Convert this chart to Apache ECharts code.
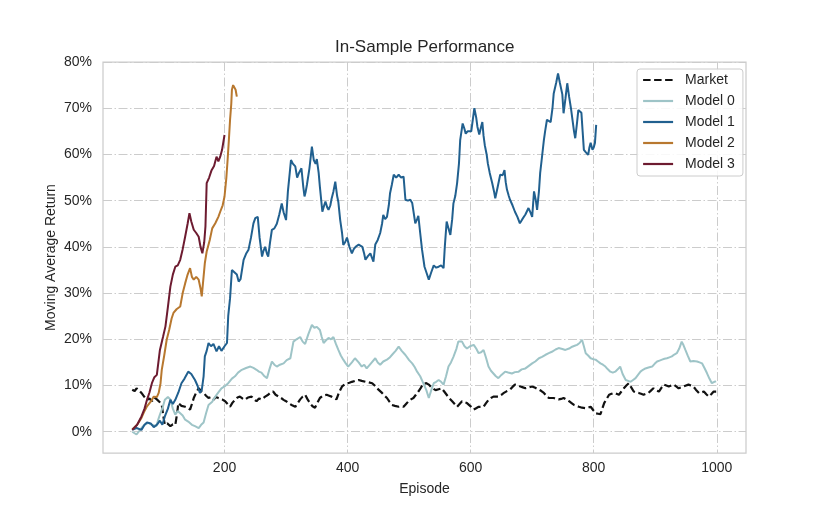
<!DOCTYPE html>
<html>
<head>
<meta charset="utf-8">
<script src="https://cdn.jsdelivr.net/npm/echarts@6/dist/echarts.min.js"></script>
<style>
  html, body { margin: 0; padding: 0; background: #fff; }
  #perfChart { width: 830px; height: 519px; }
</style>
</head>
<body>
<div id="perfChart"></div>
<script>
// [episode, moving average return %]
const market = [
  [50, 9.1], [54, 8.8], [57, 9.4], [61, 9], [65, 8.4], [70, 7.5], [74, 6.9], [78, 7.2], [82, 6.6], [86, 7.4],
  [90, 7], [94, 6.5], [98, 5.8], [101, 3], [103, 1.5], [107, 1.8], [112, 1.2], [116, 1.6], [120, 1.5], [123, 4],
  [125, 6.2], [130, 5.6], [136, 5.4], [140, 5.2], [144, 4.8], [147, 6], [150, 7.3], [154, 8.5], [158, 9.4], [162, 8.8],
  [166, 8.4], [170, 7.8], [174, 7.3], [178, 7.5], [182, 6.9], [186, 7.5], [190, 7.3], [196, 7], [201, 6.6], [205, 6],
  [209, 5.4], [213, 6.3], [217, 6.9], [221, 7.4], [225, 7.6], [229, 7.2], [233, 6.9], [238, 7.4], [244, 7.6], [248, 7],
  [252, 6.6], [256, 7.2], [260, 7], [266, 7.6], [271, 8], [275, 8.5], [279, 8.7], [283, 8], [288, 7.6], [292, 7.3],
  [296, 6.9], [300, 6.6], [304, 6.2], [309, 5.8], [315, 5.4], [319, 6.2], [323, 7], [327, 7.6], [331, 8], [335, 7],
  [339, 6.2], [343, 5.5], [347, 5.2], [351, 6.3], [355, 7.3], [360, 7.8], [366, 8], [370, 7.8], [374, 7.6], [378, 7.3],
  [382, 7], [386, 8.5], [391, 9.8], [395, 10.2], [399, 10.5], [403, 10.6], [407, 10.8], [412, 11], [418, 11.2], [423, 11],
  [429, 10.8], [434, 10.7], [440, 10.5], [444, 10], [448, 9.4], [452, 8.9], [456, 8.4], [460, 7.8], [464, 7.3], [468, 6.5],
  [472, 5.8], [477, 5.6], [483, 5.4], [487, 5.5], [491, 5.4], [495, 6], [499, 6.6], [503, 7], [507, 7.3], [511, 8],
  [515, 8.7], [519, 9.5], [523, 10.4], [528, 10.5], [532, 10.2], [537, 9.5], [543, 9], [548, 9.2], [553, 9.4], [557, 8.7],
  [561, 8], [565, 7.3], [570, 6.6], [574, 6], [578, 5.4], [582, 6], [586, 6.6], [590, 6.4], [594, 6.2], [600, 5.5],
  [605, 4.8], [609, 5.1], [613, 5.4], [617, 5.4], [621, 5.4], [625, 6.2], [629, 6.9], [633, 7.3], [637, 7.6], [641, 7.6],
  [645, 7.6], [650, 8], [654, 8.4], [659, 8.8], [664, 9.1], [668, 9.7], [672, 10.2], [677, 10], [681, 9.8], [685, 9.6],
  [689, 9.4], [694, 9.6], [700, 9.8], [705, 9.5], [711, 9.1], [715, 8.8], [719, 8.4], [723, 7.8], [727, 7.3], [731, 7.3],
  [735, 7.3], [739, 7.1], [743, 7], [747, 7.1], [751, 7.3], [755, 7], [760, 6.6], [764, 6.2], [768, 5.8], [772, 5.6],
  [776, 5.4], [781, 5.2], [787, 5.1], [791, 5.2], [795, 5.4], [799, 4.7], [803, 4], [807, 3.9], [811, 3.8], [814, 5],
  [817, 6.2], [821, 7.1], [825, 8], [829, 8.2], [833, 8.4], [837, 8.2], [841, 8], [845, 8.7], [849, 9.4], [853, 10],
  [857, 10.5], [861, 9.6], [865, 8.7], [869, 8.5], [873, 8.4], [877, 8.2], [881, 8], [885, 8.2], [889, 8.4], [893, 8.9],
  [897, 9.4], [901, 9], [906, 8.7], [910, 9.5], [914, 10.2], [918, 10], [922, 9.8], [926, 10], [930, 10.2], [934, 9.8],
  [938, 9.4], [942, 9.6], [946, 9.8], [950, 10], [954, 10.2], [958, 10], [962, 9.8], [966, 9.1], [971, 8.4], [975, 8.5],
  [979, 8.7], [983, 8.1], [987, 7.6], [991, 8.1], [995, 8.7], [999, 8.7]
];

const model0 = [
  [50, 0], [57, -0.6], [65, 0.8], [70, 1.5], [76, 1.9], [82, 1.5], [89, 1.2], [92, 2.5], [95, 3.7], [100, 5.5],
  [103, 6.9], [108, 7.5], [112, 7], [116, 5], [120, 3.7], [124, 4.5], [128, 4], [132, 3.5], [136, 2.6], [141, 2.2],
  [147, 1.5], [152, 1.2], [158, 0.8], [162, 1.5], [166, 2], [170, 4], [174, 5.8], [180, 6.5], [185, 7.6], [190, 8.5],
  [195, 9.4], [200, 9.8], [206, 10.5], [212, 11.5], [217, 12], [222, 12.8], [228, 13.4], [235, 13.8], [242, 14.1], [247, 13.8],
  [252, 13.4], [256, 13], [260, 12.8], [265, 12], [269, 11.6], [273, 13.5], [277, 15.2], [281, 14.5], [285, 14.1], [290, 14.5],
  [296, 14.8], [301, 15.5], [307, 15.9], [312, 19.5], [317, 20], [323, 20.5], [327, 19.5], [331, 19], [336, 21], [342, 23.1],
  [346, 22.5], [350, 22.7], [355, 22], [358, 20.5], [361, 19.2], [365, 19.8], [369, 20.3], [373, 20], [377, 20.5], [381, 19],
  [385, 17.7], [389, 16.5], [393, 15.6], [397, 14.8], [401, 14.1], [407, 15], [412, 15.9], [418, 15], [423, 14.1], [427, 14.5],
  [431, 13.7], [438, 14.8], [445, 15.9], [449, 15], [453, 14.5], [458, 15.2], [464, 15.6], [468, 16], [472, 16.6], [478, 17.5],
  [483, 18.4], [488, 17.5], [494, 16.6], [500, 15.5], [505, 14.8], [509, 14], [513, 13], [518, 12], [523, 10.5], [528, 9],
  [532, 7.3], [536, 9], [540, 10.5], [544, 10.8], [548, 11.2], [552, 10.8], [556, 10.2], [560, 12], [564, 14.1], [568, 15],
  [572, 16.2], [577, 18], [580, 19.5], [586, 19.5], [590, 18.5], [594, 18], [599, 18.5], [605, 18.8], [609, 18], [613, 17],
  [617, 17.2], [621, 17.7], [625, 16], [629, 14.1], [633, 13.2], [637, 12.6], [641, 12], [645, 11.6], [650, 12.3], [656, 13],
  [661, 12.8], [667, 12.6], [672, 12.9], [678, 13], [683, 13.5], [689, 13.7], [694, 14.2], [700, 14.8], [705, 15.2], [711, 15.9],
  [716, 16.2], [721, 16.6], [727, 17], [732, 17.3], [738, 17.8], [743, 18.1], [749, 17.9], [754, 17.7], [760, 18], [765, 18.4],
  [769, 18.6], [773, 18.8], [777, 19.2], [781, 19.9], [784, 18.5], [787, 17], [791, 16.5], [795, 15.9], [799, 15.7], [803, 15.6],
  [807, 15.2], [811, 14.8], [815, 14.5], [819, 14.1], [823, 13.5], [827, 13], [831, 12.8], [835, 13], [839, 13.5], [843, 14.1],
  [847, 12.5], [852, 11.2], [856, 11], [860, 10.8], [864, 11.2], [868, 11.6], [872, 12.3], [876, 13], [880, 13.4], [884, 13.7],
  [889, 13.9], [895, 14.1], [899, 14.7], [903, 15.2], [907, 15.4], [911, 15.6], [915, 15.8], [919, 15.9], [923, 16.1], [927, 16.3],
  [931, 16.7], [935, 17], [939, 18], [943, 19.5], [946, 18.7], [949, 17.7], [953, 16.4], [957, 15.2], [962, 15.3], [968, 15.2],
  [972, 15], [976, 14.8], [980, 13.8], [984, 12.7], [988, 11.5], [992, 10.5], [996, 10.8], [999, 10.9]
];

const model1 = [
  [50, 0.4], [57, 0.8], [65, 0.4], [70, 1.5], [74, 2], [80, 1.8], [85, 1], [90, 1.5], [95, 2.4], [99, 1.5],
  [103, 3.3], [108, 5], [112, 6.9], [116, 6], [120, 6.9], [125, 8.5], [130, 10.5], [135, 11.5], [141, 13], [146, 12.5],
  [152, 11.2], [156, 10], [160, 8.4], [163, 9], [166, 12], [168, 16.3], [171, 17.5], [174, 19.2], [178, 18.5], [182, 19],
  [187, 17.4], [191, 18.5], [195, 17.5], [200, 18.5], [204, 19.2], [206, 25], [209, 28.9], [212, 35], [216, 34.5], [220, 34],
  [223, 32.5], [226, 33], [231, 37.2], [235, 38.5], [239, 39.4], [243, 42], [247, 45.1], [250, 46.2], [254, 46.5], [257, 42],
  [261, 37.9], [263, 39], [266, 40], [269, 38.5], [271, 37.9], [274, 41], [277, 43.7], [281, 44], [285, 45], [289, 47],
  [293, 49.4], [296, 47.5], [300, 45.8], [303, 52], [306, 56], [308, 58.8], [311, 58], [315, 57.4], [318, 55], [321, 56],
  [325, 57], [328, 53], [330, 50.9], [332, 52], [334, 53.5], [338, 57], [342, 61.7], [345, 58.8], [348, 58], [350, 59],
  [353, 56], [355, 53], [359, 47.6], [362, 49], [364, 49.8], [367, 48.5], [369, 48], [372, 49], [374, 50.4], [377, 52],
  [380, 54.1], [383, 51], [385, 49.7], [388, 45.8], [391, 43], [393, 40.4], [396, 41], [399, 42], [403, 40], [407, 38.6],
  [410, 39.5], [413, 40], [418, 40.5], [424, 40], [427, 38.5], [429, 37.2], [433, 38], [437, 38.6], [440, 37.5], [442, 36.8],
  [445, 40.5], [449, 41.5], [453, 43], [456, 45], [458, 46.9], [461, 46], [464, 46.5], [467, 49], [469, 51.6], [472, 53.5],
  [475, 55.6], [479, 55], [483, 55.6], [487, 55], [491, 55.2], [494, 50.2], [498, 50], [502, 50.2], [505, 49.5], [510, 45.1],
  [513, 46], [515, 46.7], [518, 43], [521, 39.4], [525, 35.7], [528, 34.5], [532, 32.9], [536, 34.5], [540, 36], [544, 35.5],
  [548, 35.7], [552, 36], [556, 35.4], [558, 40], [561, 45.5], [564, 44], [567, 42.6], [570, 46], [572, 49.4], [575, 51],
  [578, 53.8], [581, 58], [583, 63.1], [587, 66.7], [590, 65.5], [592, 64.5], [595, 65], [597, 65.3], [601, 65], [604, 65.3],
  [606, 70], [609, 68], [611, 66], [614, 64.3], [617, 66], [619, 67], [621, 64], [623, 62], [626, 60], [628, 58],
  [631, 56], [635, 53.8], [638, 52], [640, 50.5], [644, 53], [648, 55.6], [652, 55.5], [655, 56.6], [657, 54], [659, 52.4],
  [662, 51], [664, 50.2], [668, 49], [672, 47.6], [676, 46.5], [680, 45.1], [684, 46], [689, 47], [694, 48.4], [697, 47.5],
  [700, 46.5], [703, 52], [706, 50], [708, 48], [711, 52], [713, 56], [716, 59.5], [719, 63.1], [721, 65], [724, 67.5],
  [727, 67.5], [730, 67], [733, 70], [735, 73.2], [739, 75.5], [742, 77.5], [745, 75.5], [749, 73], [751, 68.9], [754, 72],
  [757, 75.4], [760, 72.5], [763, 70], [766, 67], [768, 65], [770, 63.5], [773, 67], [775, 69.6], [778, 69.5], [780, 69],
  [782, 65], [784, 61], [787, 60.5], [791, 59.9], [793, 61.5], [795, 62.5], [798, 61], [800, 61.5], [802, 62.5], [804, 66.4]
];

const model2 = [
  [50, 0.5], [58, 1.5], [65, 3], [70, 4.5], [74, 5.5], [80, 6.5], [85, 7.6], [90, 7.5], [93, 8.4], [96, 10.5],
  [98, 13.4], [102, 16.5], [106, 19.9], [110, 22], [114, 24.5], [117, 25.7], [122, 26.5], [128, 27.1], [132, 30], [136, 32.1],
  [140, 34], [144, 35.4], [147, 33.5], [150, 32.9], [154, 33.5], [158, 32.9], [161, 31], [163, 29.3], [166, 29.6], [168, 36.5],
  [171, 39], [176, 41.5], [180, 44], [185, 45.1], [190, 46.5], [193, 47.6], [197, 49], [200, 50.9], [203, 55], [205, 58.8],
  [207, 63], [209, 67.5], [211, 71], [212, 74], [214, 75], [216, 74.7], [218, 74], [220, 72.5]
];

const model3 = [
  [50, 0.4], [58, 1.5], [65, 3.3], [70, 5], [74, 6.9], [78, 8.5], [82, 10.5], [86, 11.8], [90, 12.3], [95, 17.7],
  [100, 20.5], [104, 22.8], [108, 27], [112, 31.4], [116, 34], [120, 35.7], [124, 36], [128, 37.2], [132, 39.5], [136, 42.2],
  [140, 45], [143, 47.3], [146, 45.5], [150, 43.7], [154, 43], [158, 42.2], [161, 40], [164, 38.6], [167, 41], [169, 44.4],
  [171, 53.8], [175, 55], [179, 56.6], [183, 57.5], [187, 59.5], [190, 58.5], [193, 59.5], [196, 61], [200, 64.2]
];

const seriesNames = ['Market', 'Model 0', 'Model 1', 'Model 2', 'Model 3'];
const seriesData = [market, model0, model1, model2, model3];
const seriesColors = ['#111111', '#9ec4c7', '#21608f', '#b8782f', '#6d1b30'];
const xTicks = [200, 400, 600, 800, 1000];
const yTicks = [0, 10, 20, 30, 40, 50, 60, 70, 80];

const perfChart = echarts.init(document.getElementById('perfChart'), null, { renderer: 'canvas' });
perfChart.setOption(perfChartOption());

function perfChartOption() {
  const fontFamily = "'Liberation Sans', Arial, sans-serif";
  const gridLine = {
    show: true,
    lineStyle: { color: '#cccccc', width: 1, type: [9, 2.5, 1.5, 2.5] }
  };
  return {
    animation: false,
    backgroundColor: '#ffffff',
    textStyle: { fontFamily: fontFamily },
    title: {
      text: 'In-Sample Performance',
      left: 335,
      top: 39,
      padding: 0,
      textStyle: { color: '#262626', fontSize: 17, fontWeight: 'normal', fontFamily: fontFamily }
    },
    legend: {
      orient: 'vertical',
      left: 637,
      top: 69,
      padding: [4, 8, 5, 5],
      itemWidth: 30,
      itemHeight: 14,
      itemGap: 7,
      backgroundColor: 'rgba(255,255,255,0.85)',
      borderColor: '#cccccc',
      borderWidth: 1,
      borderRadius: 3,
      itemStyle: { opacity: 0 }, // hide the marker, keep the line sample
      lineStyle: { width: 2.2 },
      textStyle: { color: '#262626', fontSize: 14, fontFamily: fontFamily, padding: [0, 0, 0, 7] },
      data: seriesNames
    },
    grid: {
      left: 103,
      right: 84,
      top: 62,
      bottom: 66,
      show: true,
      borderColor: '#cccccc',
      borderWidth: 1.25,
      backgroundColor: 'transparent'
    },
    xAxis: {
      type: 'value',
      min: 2.5,
      max: 1047.5,
      name: 'Episode',
      nameLocation: 'middle',
      nameGap: 29,
      nameMoveOverlap: false,
      nameTextStyle: { color: '#262626', fontSize: 14, fontFamily: fontFamily },
      axisLine: { show: false },
      axisTick: { show: false, customValues: xTicks },
      axisLabel: {
        customValues: xTicks,
        formatter: function (v) { return String(v); },
        color: '#262626',
        fontSize: 14,
        margin: 8,
        fontFamily: fontFamily
      },
      splitLine: gridLine
    },
    yAxis: {
      type: 'value',
      min: -4.6,
      max: 80,
      name: 'Moving Average Return',
      nameLocation: 'middle',
      nameGap: 45,
      nameMoveOverlap: false,
      nameTextStyle: { color: '#262626', fontSize: 14, fontFamily: fontFamily },
      axisLine: { show: false },
      axisTick: { show: false, customValues: yTicks },
      axisLabel: {
        customValues: yTicks,
        formatter: '{value}%',
        color: '#262626',
        fontSize: 14,
        margin: 11,
        fontFamily: fontFamily
      },
      splitLine: gridLine
    },
    series: seriesNames.map(function (name, i) {
      return {
        name: name,
        type: 'line',
        symbol: 'none',
        showSymbol: false,
        color: seriesColors[i],
        lineStyle: {
          width: i === 0 ? 2.2 : 2,
          color: seriesColors[i],
          type: i === 0 ? [7.5, 3.5] : 'solid'
        },
        emphasis: { disabled: true },
        data: seriesData[i]
      };
    })
  };
}
</script>
</body>
</html>
